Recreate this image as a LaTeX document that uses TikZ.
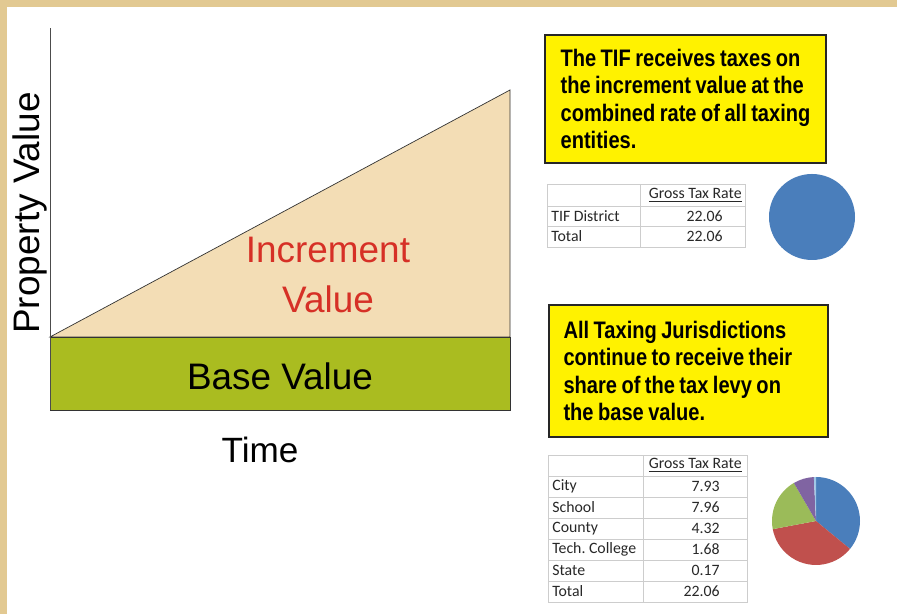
\documentclass[tikz,border=0pt]{standalone}
\usepackage{fontspec}
\setmainfont{Liberation Sans}
\newfontfamily\calloutfont[FakeStretch=0.84,WordSpace=0.8]{Liberation Sans Bold}
\newfontfamily\tablefont{Carlito}
\usepackage{xcolor}
\frenchspacing

\definecolor{parchment}{RGB}{226,201,146}
\definecolor{wheatfill}{RGB}{243,221,181}
\definecolor{olivefill}{RGB}{170,188,32}
\definecolor{incred}{RGB}{214,48,38}
\definecolor{pieblue}{RGB}{74,126,187}
\definecolor{piered}{RGB}{192,80,77}
\definecolor{piegreen}{RGB}{155,187,89}
\definecolor{piepurple}{RGB}{128,100,162}
\definecolor{pieaqua}{RGB}{160,200,230}
\definecolor{gridgray}{RGB}{205,205,205}
\definecolor{celltext}{RGB}{40,40,40}

\begin{document}
\begin{tikzpicture}[
        x=0.02cm, y=0.02cm,
        chartlabel/.style={font=\fontsize{21}{25}\selectfont},
        callout/.style={draw=black!85, line width=1.2pt, fill=yellow, align=flush left,
          font=\calloutfont\fontsize{13.6}{15.6}\selectfont, inner ysep=0pt},
        gridline/.style={draw=gridgray, line width=0.5pt},
        celllabel/.style={anchor=west, inner sep=0pt, text=celltext, font=\tablefont\fontsize{9}{10}\selectfont},
        cellvalue/.style={anchor=east, inner sep=0pt, text=celltext, font=\tablefont\fontsize{9}{10}\selectfont},
        thin
      ]
      % page: parchment edge with a white sheet on it
      \fill[parchment] (0,0) rectangle (897,614);
      \fill[white] (7,0) rectangle (897,607);
      \useasboundingbox (0,0) rectangle (897,614);

      % property value over time
      \filldraw[fill=wheatfill, draw=black!80] (50,277) -- (510,524) -- (510,277) -- cycle;
      \filldraw[fill=olivefill, draw=black!80] (50,204) rectangle (510,277);
      \draw[black!70] (50,204) -- (50,586);
      \node[chartlabel, text=incred, align=center] (incr) at (328,339) {Increment\\[3pt]Value};
      \node[chartlabel] (base) at (280,238) {Base Value};
      \node[chartlabel, font=\fontsize{20}{24}\selectfont] (time) at (260,164) {Time};
      \node[chartlabel, rotate=90] (pv) at (30,401) {Property Value};

      % TIF district share
      \node[callout, minimum width=5.62cm, minimum height=2.56cm] (tifnote) at (685.5,515)
        {The TIF receives taxes on\\the increment value at the\\combined rate of all taxing\\entities.};
      \draw[gridline] (547,367) rectangle (745,430);
      \draw[gridline] (547,388) -- (745,388);
      \draw[gridline] (547,408) -- (745,408);
      \draw[gridline] (640,367) -- (640,430);
      \node[cellvalue] (thead) at (742,419) {\underline{Gross Tax Rate}};
      \node[celllabel] (tdist) at (551,398) {TIF District};
      \node[cellvalue] (tdistv) at (723,398) {22.06};
      \node[celllabel] (ttot) at (551,377.5) {Total};
      \node[cellvalue] (ttotv) at (723,377.5) {22.06};
      \fill[pieblue] (812,397) circle[radius=43];

      % taxing jurisdictions share
      \node[callout, text width=5.0cm, minimum width=5.58cm, minimum height=2.64cm] (basenote) at (688.5,243)
        {All Taxing Jurisdictions\\continue to receive their\\share of the tax levy on\\the base value.};
      \draw[gridline] (548,12) rectangle (747,159);
      \foreach \k in {1,...,6}
        \draw[gridline] (548,{159-21*\k}) -- (747,{159-21*\k});
      \draw[gridline] (643,12) -- (643,159);
      \node[cellvalue] (jhead) at (742,148.5) {\underline{Gross Tax Rate}};
      \foreach \name/\rate [count=\i] in {City/7.93, School/7.96, County/4.32,
          Tech. College/1.68, State/0.17, Total/22.06} {
        \node[celllabel] (jl\i) at (552,{148.5-21*\i}) {\name};
        \node[cellvalue] (jv\i) at (720,{148.5-21*\i}) {\rate};
      }
      \foreach \a/\b/\c in {90/-39.4/pieblue, -39.4/-169.3/piered, -169.3/-239.8/piegreen,
          -239.8/-267.2/piepurple, -267.2/-270/pieaqua}
        \fill[\c] (816,93) -- ++(\a:44) arc[start angle=\a, end angle=\b, radius=44] -- cycle;
    \end{tikzpicture}
\end{document}
